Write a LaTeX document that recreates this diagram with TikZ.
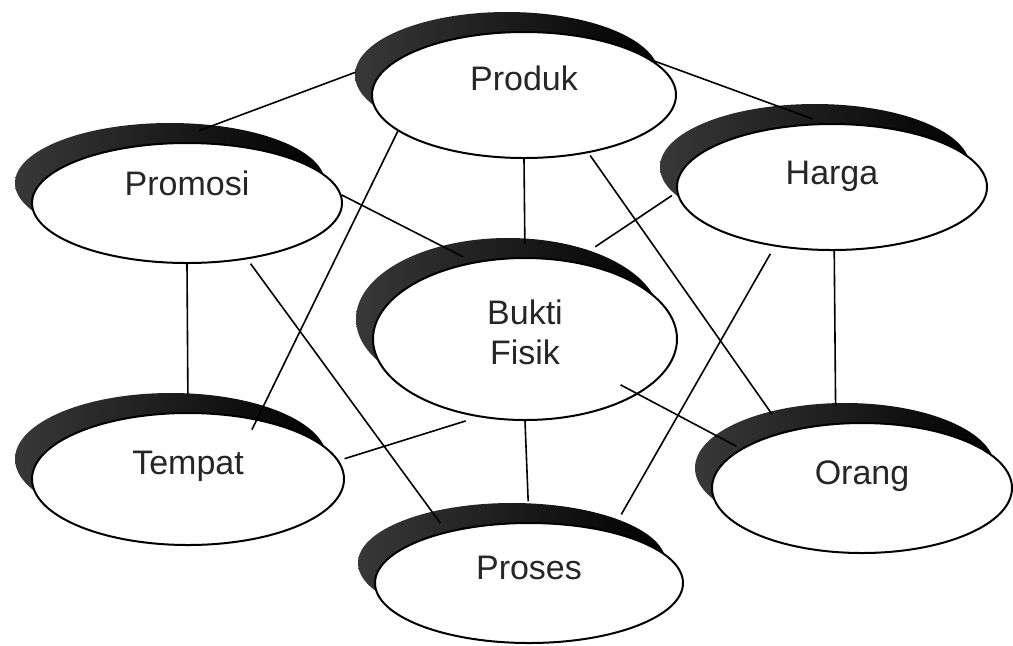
\documentclass[tikz,border=0pt]{standalone}
\usepackage{fontspec}
\setmainfont{Liberation Sans}
\usetikzlibrary{shapes.geometric}

\begin{document}
\begin{tikzpicture}[x=0.5pt,y=-0.5pt,
    oval/.style={ellipse, draw, line width=1pt, fill=white, inner sep=2pt,
      font=\fontsize{17}{20}\selectfont, text=black!85,
      preaction={draw=none, left color=black!78, right color=black,
        transform canvas={xshift=-8.5pt,yshift=10pt}}},
    lifted/.style={text height=12pt, text depth=#1},
    link/.style={line width=0.8pt}]
    \useasboundingbox (0,0) rectangle (1013,645);
    % the seven elements
    \node[oval, minimum width=152pt, minimum height=63pt, lifted=17pt] (produk) at (524,95) {Produk};
    \node[oval, minimum width=155pt, minimum height=60pt, lifted=20pt] (promosi) at (187,203) {Promosi};
    \node[oval, minimum width=155pt, minimum height=63pt, lifted=15pt] (harga) at (832,187) {Harga};
    \node[oval, minimum width=152pt, minimum height=81pt, align=center] (bukti) at (525,339) {Bukti\\Fisik\rule[-7pt]{0pt}{7pt}};
    \node[oval, minimum width=156pt, minimum height=66pt, lifted=17pt] (tempat) at (188,479) {Tempat};
    \node[oval, minimum width=150pt, minimum height=65pt, lifted=16pt] (orang) at (862,488) {Orang};
    \node[oval, minimum width=154pt, minimum height=60pt, lifted=16pt] (proses) at (529,583) {Proses};
    % links
    \draw[link, shorten <=32.5pt, shorten >=17pt] (produk.157) -- (promosi.108);
    \draw[link, shorten >=6pt] (produk.15.5) -- (harga.97);
    \draw[link, shorten >=6.5pt] (produk.-90) -- (bukti.90);
    \draw[link, shorten >=-6pt] (produk.196.7) -- (tempat.41.5);
    \draw[link, shorten <=1.5pt, shorten >=10.5pt] (produk.-42.9) -- (orang.144);
    \draw[link, shorten >=5.5pt] (promosi.3) -- (bukti.124.6);
    \draw[link, shorten >=9pt] (promosi.-90) -- (tempat.90);
    \draw[link, shorten <=2.75pt, shorten >=5.2pt] (promosi.-43.9) -- (proses.148.6);
    \draw[link, shorten <=2.75pt, shorten >=13pt] (harga.182.6) -- (bukti.58.1);
    \draw[link, shorten >=8.5pt] (harga.-88) -- (orang.112.9);
    \draw[link, shorten <=4.2pt, shorten >=9.75pt] (harga.226.4) -- (proses.32.2);
    \draw[link, shorten <=6.5pt, shorten >=3pt] (bukti.239.4) -- (tempat.7.3);
    \draw[link, shorten <=-10pt, shorten >=2.5pt] (bukti.-26.5) -- (orang.162.2);
    \draw[link, shorten >=10.5pt] (bukti.-90) -- (proses.90);
\end{tikzpicture}
\end{document}
